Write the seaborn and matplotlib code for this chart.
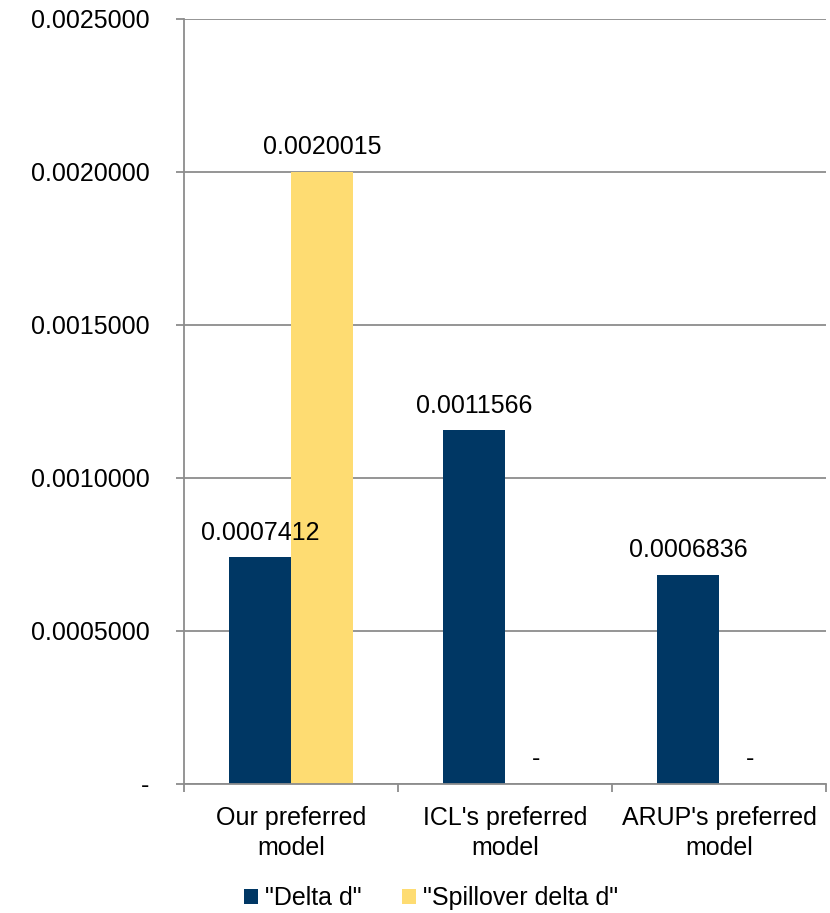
import matplotlib
matplotlib.use("Agg")
import matplotlib.pyplot as plt
import seaborn as sns
import pandas as pd
from matplotlib.ticker import FixedLocator, FuncFormatter

categories = ["Our preferred\nmodel", "ICL's preferred\nmodel", "ARUP's preferred\nmodel"]
series_names = ['"Delta d"', '"Spillover delta d"']
delta_d = [0.0007412, 0.0011566, 0.0006836]
spillover_delta_d = [0.0020015, 0.0, 0.0]
y_ticks = [0.0, 0.0005, 0.0010, 0.0015, 0.0020, 0.0025]

df = pd.DataFrame({
    "model": categories * 2,
    "series": [series_names[0]] * 3 + [series_names[1]] * 3,
    "value": delta_d + spillover_delta_d,
})

sns.set_theme(style="white")
plt.rcParams["font.family"] = ["Liberation Sans", "DejaVu Sans"]
plt.rcParams["text.color"] = "black"
plt.rcParams["xtick.color"] = "black"
plt.rcParams["ytick.color"] = "black"

FS = 18
GRID = "#8c8c8c"

fig = plt.figure(figsize=(8.3, 9.13), dpi=100)
ax = fig.add_axes([0.2217, 0.1413, 0.7735, 0.8379])

palette = {series_names[0]: "#003764", series_names[1]: "#FEDC72"}
sns.barplot(data=df, x="model", y="value", hue="series", palette=palette,
            width=0.58, saturation=1.0, linewidth=0, ax=ax, legend=True)

def fmt_val(v):
    return "-" if v == 0 else f"{v:.7f}"

for cont in ax.containers:
    labels = [fmt_val(b.get_height()) for b in cont]
    ax.bar_label(cont, labels=labels, padding=9, fontsize=FS, color="black")

ax.set_ylim(0, 0.0025)
ax.set_xlim(-0.5, 2.5)
ax.yaxis.set_major_locator(FixedLocator(y_ticks))
ax.yaxis.set_major_formatter(FuncFormatter(lambda v, p: "-" if v == 0 else f"{v:.7f}"))
ax.grid(axis="y", color=GRID, linewidth=1.3)
ax.set_axisbelow(True)

# category boundaries carry tick marks, centres carry labels
ax.set_xticks([-0.5, 0.5, 1.5, 2.5])
ax.set_xticklabels([])
ax.set_xticks([0, 1, 2], minor=True)
ax.set_xticklabels(categories, minor=True, fontsize=FS, linespacing=1.3)
ax.tick_params(axis="x", which="major", length=6, width=1.3, color=GRID, direction="out", bottom=True)
ax.tick_params(axis="x", which="minor", length=0, pad=16, labelcolor="black")
ax.tick_params(axis="y", length=6, width=1.3, color=GRID, direction="out", left=True,
               labelsize=FS, pad=19, labelcolor="black")

for s in ["top", "right"]:
    ax.spines[s].set_visible(False)
for s in ["left", "bottom"]:
    ax.spines[s].set_color(GRID)
    ax.spines[s].set_linewidth(1.3)

ax.set_xlabel("")
ax.set_ylabel("")

leg = ax.legend(loc="center", bbox_to_anchor=(0.385, -0.149), ncol=2, frameon=False,
                fontsize=FS, handlelength=0.55, handleheight=0.55, handletextpad=0.3,
                columnspacing=1.6, borderpad=0)

fig.savefig("out.png", dpi=100)
